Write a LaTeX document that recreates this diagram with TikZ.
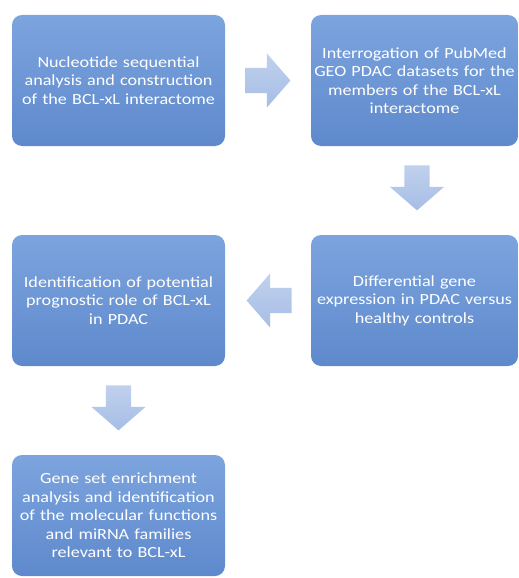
\documentclass[tikz,border=0pt]{standalone}
\usepackage{fontspec}
\setmainfont{Carlito}[FakeStretch=1.17]
\usetikzlibrary{shapes.arrows,calc}
\definecolor{boxtop}{RGB}{124,164,222}
\definecolor{boxbot}{RGB}{94,137,204}
\definecolor{arrtop}{RGB}{192,209,237}
\definecolor{arrbot}{RGB}{166,189,229}
\begin{document}
\begin{tikzpicture}[x=1pt,y=-1pt,
  box/.style={rounded corners=10pt, top color=boxtop, bottom color=boxbot, draw=none,
    text=white, align=center, font=\fontsize{15.5}{18.5}\selectfont, inner sep=0pt,
    minimum height=131pt},
  blockarrow/.style={single arrow, draw=none, top color=arrtop, bottom color=arrbot,
    minimum height=45pt, minimum width=54pt, single arrow head extend=14.5pt,
    inner sep=12.5pt, single arrow tip angle=98, anchor=tail}]
\useasboundingbox (0,0) rectangle (519,578);
\node[box, minimum width=213pt, text width=213pt] (b1) at (118.5,80.5)
  {Nucleotide sequential\\analysis and construction\\of the BCL-xL interactome};
\node[box, minimum width=207pt, text width=207pt] (b2) at (414.5,80.5)
  {Interrogation of PubMed\\GEO PDAC datasets for the\\members of the BCL-xL\\interactome};
\node[box, minimum width=207pt, text width=207pt] (b4) at (414.5,300.5)
  {Differential gene\\expression in PDAC versus\\healthy controls};
\node[box, minimum width=213pt, text width=213pt] (b3) at (118.5,300.5)
  {Identification of potential\\prognostic role of BCL-xL\\in PDAC};
\node[box, minimum width=213pt, text width=213pt, minimum height=121pt] (b5) at (118.5,515.5)
  {Gene set enrichment\\analysis and identification\\of the molecular functions\\and miRNA families\\relevant to BCL-xL};
\node[blockarrow] (a1) at ($(b1.east)+(20,0)$) {};
\node[blockarrow, shape border rotate=270] (a2) at ($(b2.south)+(2.5,19)$) {};
\node[blockarrow, shape border rotate=180] (a3) at ($(b4.west)+(-19,0)$) {};
\node[blockarrow, shape border rotate=270] (a4) at ($(b3.south)+(0,19)$) {};
\end{tikzpicture}
\end{document}
